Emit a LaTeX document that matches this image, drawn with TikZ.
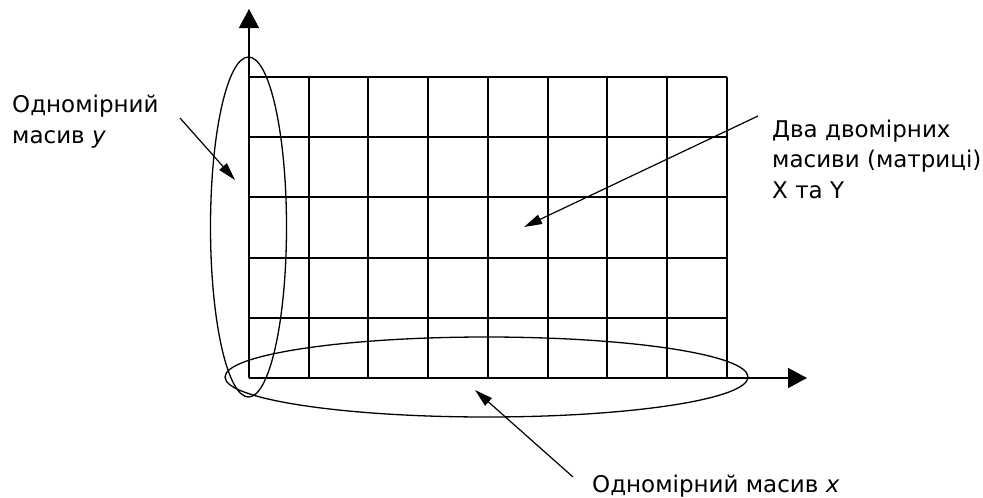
\documentclass[tikz,border=0pt]{standalone}
\usepackage{fontspec}
\setmainfont{DejaVu Sans}
\usetikzlibrary{arrows.meta}

\begin{document}
\begin{tikzpicture}[x=1pt, y=-1pt,
    gridline/.style={line width=1.3pt},
    axis/.style={line width=1.3pt, -{Triangle[length=19pt, width=20pt]}},
    oval/.style={line width=1.3pt},
    pointer/.style={line width=1.2pt, -{Triangle[length=18pt, width=10pt]}},
    lbl/.style={inner sep=0pt, align=left, font=\fontsize{23}{30.5}\selectfont},
]
\useasboundingbox (0,0) rectangle (983,498);
% Grid
\foreach \x in {249,309,368,428,488,548,607,667,727} {
    \draw[gridline] (\x,77) -- (\x,378);
}
\foreach \y in {77,137,197,258,318,378} {
    \draw[gridline] (249,\y) -- (727,\y);
}

% Axes
\coordinate (O) at (249,378);
\coordinate (ytop) at (249,9);
\coordinate (xend) at (807,378);
\draw[axis] (O) -- (ytop);
\draw[axis] (O) -- (xend);

% One-dimensional arrays
\draw[oval] (248.5,227) ellipse [x radius=38pt, y radius=170pt];
\draw[oval] (486.5,377) ellipse [x radius=261.5pt, y radius=40pt];

% Labels (base = last line)
\node[lbl, anchor=base west] (ylab) at (12,143) {Одномірний\\масив \textit{y}};
\node[lbl, anchor=base west] (mlab) at (772,198) {Два двомірних\\масиви (матриці)\\X та Y};
\node[lbl, anchor=base west] (xlab) at (592,492) {Одномірний масив \textit{x}};

% Pointers
\coordinate (ytail) at (180,118);
\coordinate (ytip) at (235,180);
\coordinate (mtail) at (758,116);
\coordinate (mtip) at (524,227);
\coordinate (xtail) at (573,477);
\coordinate (xtip) at (475,390);
\draw[pointer] (ytail) -- (ytip);
\draw[pointer] (mtail) -- (mtip);
\draw[pointer] (xtail) -- (xtip);
\end{tikzpicture}
\end{document}
